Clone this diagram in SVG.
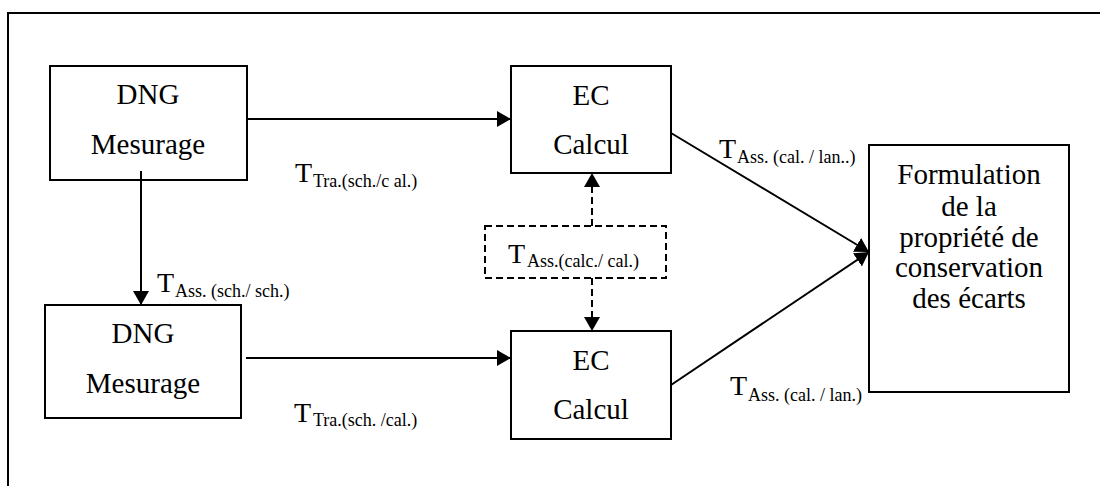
<svg xmlns="http://www.w3.org/2000/svg" width="1100" height="486" viewBox="0 0 1100 486" font-family="Liberation Serif">
<style>
.box{fill:#fff;stroke:#000;stroke-width:2}
.dbox{fill:#fff;stroke:#000;stroke-width:2;stroke-dasharray:7 4}
.lbl{fill:#000;text-anchor:middle;font-size:29px}
.t{fill:#000;font-size:28px}
.s{font-size:18px}
.ln{fill:none;stroke:#000;stroke-width:2}
.dl{fill:none;stroke:#000;stroke-width:2;stroke-dasharray:7 4}
</style>
<defs>
<marker id="ah" markerUnits="userSpaceOnUse" markerWidth="15" markerHeight="16" refX="14" refY="8" orient="auto">
<path d="M0,0 L14,8 L0,16 z" fill="#000"/>
</marker>
</defs>
<rect width="1100" height="486" fill="#fff"/>
<path d="M8,486 V13 H1100" fill="none" stroke="#000" stroke-width="2"/>

<g id="dng1">
<rect class="box" x="50" y="66" width="197" height="114"/>
<text class="lbl" font-family="Liberation Serif" x="148" y="104">DNG</text>
<text class="lbl" font-family="Liberation Serif" x="148" y="154">Mesurage</text>
</g>
<g id="dng2">
<rect class="box" x="45" y="305" width="196" height="113"/>
<text class="lbl" font-family="Liberation Serif" x="143" y="343">DNG</text>
<text class="lbl" font-family="Liberation Serif" x="143" y="393">Mesurage</text>
</g>
<g id="ec1">
<rect class="box" x="511" y="66" width="160" height="107"/>
<text class="lbl" font-family="Liberation Serif" x="591" y="105">EC</text>
<text class="lbl" font-family="Liberation Serif" x="591" y="154">Calcul</text>
</g>
<g id="ec2">
<rect class="box" x="511" y="331" width="160" height="108"/>
<text class="lbl" font-family="Liberation Serif" x="591" y="370">EC</text>
<text class="lbl" font-family="Liberation Serif" x="591" y="419">Calcul</text>
</g>
<g id="formulation" font-family="Liberation Serif">
<rect class="box" x="869" y="145" width="200" height="247"/>
<text class="lbl" x="969" y="184">Formulation</text>
<text class="lbl" x="969" y="216">de la</text>
<text class="lbl" x="969" y="247">propriété de</text>
<text class="lbl" x="969" y="277">conservation</text>
<text class="lbl" x="969" y="308">des écarts</text>
</g>
<g id="tass-calc" font-family="Liberation Serif">
<rect class="dbox" x="485" y="226" width="181" height="52"/>
<text class="t" x="508" y="263">T<tspan class="s" x="527" y="267">Ass.(calc./ cal.)</tspan></text>
</g>

<g id="connectors">
<line class="ln" x1="247" y1="119" x2="511" y2="119" marker-end="url(#ah)"/>
<line class="ln" x1="246" y1="358" x2="511" y2="358" marker-end="url(#ah)"/>
<line class="ln" x1="141" y1="171" x2="141" y2="305" marker-end="url(#ah)"/>
<line class="dl" x1="592" y1="226" x2="592" y2="173" marker-end="url(#ah)"/>
<line class="dl" x1="592" y1="278" x2="592" y2="331" marker-end="url(#ah)"/>
<line class="ln" x1="671" y1="133" x2="869" y2="252" marker-end="url(#ah)"/>
<line class="ln" x1="671" y1="385" x2="869" y2="252" marker-end="url(#ah)"/>
</g>

<g id="labels" font-family="Liberation Serif">
<text class="t" x="295" y="182">T<tspan class="s" x="313" y="187">Tra.(sch./c al.)</tspan></text>
<text class="t" x="157" y="292">T<tspan class="s" x="175" y="297">Ass. (sch./ sch.)</tspan></text>
<text class="t" x="719" y="158">T<tspan class="s" x="737" y="163">Ass. (cal. / lan..)</tspan></text>
<text class="t" x="730" y="395">T<tspan class="s" x="748" y="401">Ass. (cal. / lan.)</tspan></text>
<text class="t" x="294" y="422">T<tspan class="s" x="313" y="426">Tra.(sch. /cal.)</tspan></text>
</g>
</svg>
